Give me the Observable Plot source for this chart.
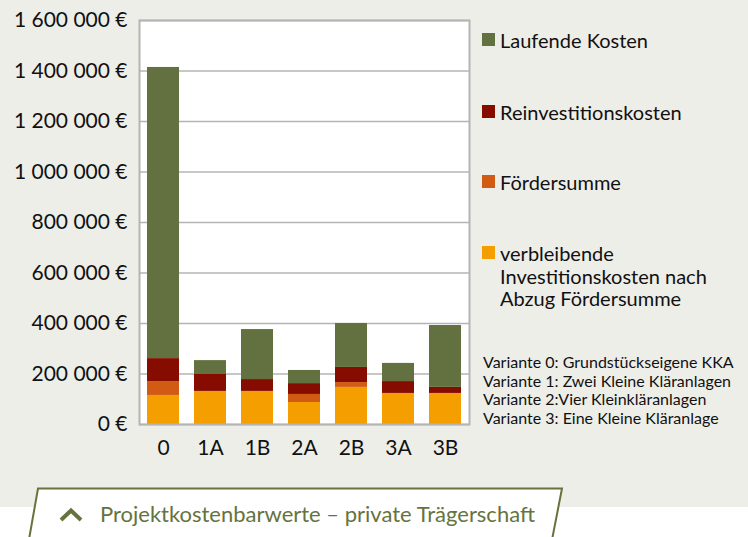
<!DOCTYPE html>
<html>
<head>
<meta charset="utf-8">
<script src="https://cdn.jsdelivr.net/npm/d3@7"></script>
<script src="https://cdn.jsdelivr.net/npm/@observablehq/plot@0.6"></script>
<style>
  html, body { margin: 0; padding: 0; }
  body { width: 748px; height: 537px; overflow: hidden; font-family: Lato, "Open Sans", sans-serif; }
  #page { position: relative; width: 748px; height: 537px; background: #EEEEE9; overflow: hidden; }
  #whiteband { position: absolute; left: 0; top: 507px; width: 748px; height: 30px; background: #fff; }
  #chart { position: absolute; left: 0; top: 0; }
  .leg { position: absolute; left: 482px; font-size: 20px; color: #111; line-height: 22.5px; }
  .leg .sw { position: absolute; left: 0; width: 13px; height: 13px; }
  .leg .tx { position: absolute; left: 18px; white-space: nowrap; }
  #notes { position: absolute; left: 483px; top: 353px; font-size: 16px; line-height: 18.5px; color: #111; white-space: nowrap; }
  #tab { position: absolute; left: 0; top: 480px; }
</style>
</head>
<body>
<div id="page">
  <div id="whiteband"></div>
  <div id="chart"></div>
  <div id="legend"></div>
  <div id="notes"></div>
  <svg id="tab" width="748" height="57" viewBox="0 480 748 57">
    <polygon points="28,545 38,488.5 562,488.5 551,545" fill="#fff" stroke="#66733D" stroke-width="2"/>
    <polyline points="61,520 71,510.5 81,520" fill="none" stroke="#66733D" stroke-width="4"/>
    <text id="tabtext" x="100" y="522" font-size="22" fill="#66733D" font-family="Lato, 'Open Sans', sans-serif"></text>
  </svg>
</div>
<script>
const variants = ["0", "1A", "1B", "2A", "2B", "3A", "3B"];
const seriesNames = [
  "verbleibende Investitionskosten nach Abzug Fördersumme",
  "Fördersumme",
  "Reinvestitionskosten",
  "Laufende Kosten"
];
const verbleibend = [115000, 131000, 131000, 87000, 147000, 123000, 123000];
const foerder = [55000, 0, 0, 32000, 19000, 0, 0];
const reinvest = [91000, 67000, 47000, 43000, 60000, 47000, 24000];
const laufend = [1153000, 55000, 198000, 52000, 174000, 72000, 245000];
const seriesColors = ["#F59E00", "#D25B13", "#870C00", "#63703F"];
const yTicks = [0, 200000, 400000, 600000, 800000, 1000000, 1200000, 1400000, 1600000];
const legendLabels = ["Laufende Kosten", "Reinvestitionskosten", "Fördersumme", "verbleibende<br>Investitionskosten nach<br>Abzug Fördersumme"];
const notes = [
  "Variante 0: Grundstückseigene KKA",
  "Variante 1: Zwei Kleine Kläranlagen",
  "Variante 2:Vier Kleinkläranlagen",
  "Variante 3: Eine Kleine Kläranlage"
];
const caption = "Projektkostenbarwerte – private Trägerschaft";

const seriesValues = [verbleibend, foerder, reinvest, laufend];
const data = [];
variants.forEach((v, i) => {
  seriesNames.forEach((s, j) => data.push({variant: v, series: s, value: seriesValues[j][i]}));
});

const fmt = d => d3.format(",")(d).replace(/,/g, " ") + " €";

const chart = Plot.plot({
  width: 748,
  height: 480,
  marginLeft: 139,
  marginRight: 279,
  marginTop: 20,
  marginBottom: 56,
  style: {fontFamily: "Lato, 'Open Sans', sans-serif", fontSize: "21px", background: "transparent", color: "#111", overflow: "visible"},
  x: {domain: variants, paddingInner: 0.32, paddingOuter: 0.15, label: null, tickSize: 0, tickPadding: 16},
  y: {domain: [0, 1600000], ticks: yTicks, tickFormat: fmt, label: null, tickSize: 0, tickPadding: 12},
  color: {domain: seriesNames, range: seriesColors},
  marks: [
    Plot.frame({fill: "white", stroke: "none"}),
    Plot.ruleY(yTicks, {stroke: "#b4b4b4", strokeWidth: 1.5}),
    Plot.barY(data, {x: "variant", y: "value", fill: "series", order: seriesNames}),
    Plot.frame({stroke: "#b4b4b4", strokeWidth: 2})
  ]
});
document.getElementById("chart").appendChild(chart);

// legend (HTML)
const legTops = [33, 105, 175, 246];
const legendColors = [seriesColors[3], seriesColors[2], seriesColors[1], seriesColors[0]];
const legend = document.getElementById("legend");
legendLabels.forEach((lab, i) => {
  const d = document.createElement("div");
  d.className = "leg";
  d.style.top = legTops[i] + "px";
  d.innerHTML = `<div class="sw" style="top:0;background:${legendColors[i]}"></div><div class="tx" style="top:-4px">${lab}</div>`;
  legend.appendChild(d);
});
document.getElementById("notes").innerHTML = notes.join("<br>");
document.getElementById("tabtext").textContent = caption;
</script>
</body>
</html>
